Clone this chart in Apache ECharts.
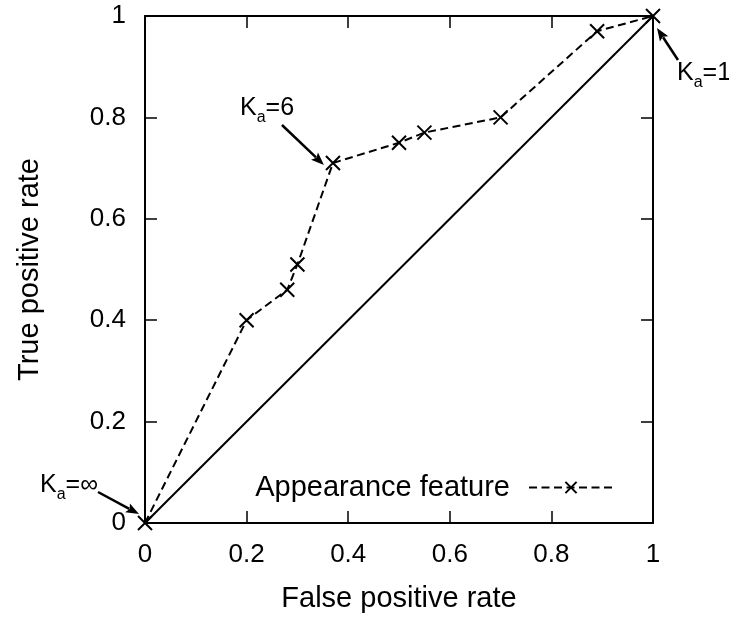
<!DOCTYPE html>
<html><head><meta charset="utf-8">
<script src="https://cdn.jsdelivr.net/npm/echarts@6/dist/echarts.min.js"></script>
<style>html,body{margin:0;padding:0;background:#fff}#c{width:729px;height:619px}</style>
</head><body><div id="c"></div>
<script>
// Data
const fpr = [0, 0.2, 0.28, 0.3, 0.37, 0.5, 0.55, 0.7, 0.89, 1];
const tpr = [0, 0.4, 0.46, 0.51, 0.71, 0.75, 0.77, 0.8, 0.97, 1];
const diagX = [0, 1];
const diagY = [0, 1];
const tickLabels = [0, 0.2, 0.4, 0.6, 0.8, 1];
const seriesName = 'Appearance feature';
const xTitle = 'False positive rate';
const yTitle = 'True positive rate';
// annotations: label pieces and the data point they point to
const annLabels = [['K', 'a', '=\u221E'], ['K', 'a', '=6'], ['K', 'a', '=1']];
const annTargets = [[0, 0], [0.37, 0.71], [1, 1]];

const FONT = '"Liberation Sans", Arial, Helvetica, sans-serif';
const chart = echarts.init(document.getElementById('c'));
const crossPath = 'path://M0,0L10,10M10,0L0,10';

function axisCommon(pos, show) {
  return {
    type: 'value', min: 0, max: 1, interval: 0.2, position: pos,
    axisLine: { show: true, onZero: false, lineStyle: { color: '#000', width: 2 } },
    axisTick: { show: true, inside: true, length: 12, lineStyle: { color: '#000', width: 1.5 } },
    axisLabel: { show: show, color: '#000', fontSize: 26, fontFamily: FONT, margin: 19,
      formatter: v => tickLabels.indexOf(v) >= 0 ? String(v) : '' },
    splitLine: { show: false }
  };
}

const xb = axisCommon('bottom', true);
xb.name = xTitle; xb.nameLocation = 'middle'; xb.nameGap = 61;
xb.nameTextStyle = { fontSize: 29, fontFamily: FONT, color: '#000' };
const yl = axisCommon('left', true);
yl.name = yTitle; yl.nameLocation = 'middle'; yl.nameGap = 101; yl.nameRotate = 90;
yl.nameTextStyle = { fontSize: 29, fontFamily: FONT, color: '#000' };
const xt = axisCommon('top', false);
const yr = axisCommon('right', false);

chart.setOption({
  animation: false,
  grid: { left: 145, right: 76, top: 16, bottom: 96, containLabel: false },
  xAxis: [xb, xt],
  yAxis: [yl, yr],
  legend: {
    data: [seriesName], right: 110, top: 468, align: 'right',
    itemWidth: 84, itemHeight: 14,
    textStyle: { fontSize: 29, fontFamily: FONT, color: '#000', padding: [0, 14, 0, 0] }
  },
  series: [
    {
      type: 'line', silent: true, data: diagX.map((x, i) => [x, diagY[i]]),
      symbol: 'none', lineStyle: { color: '#000', width: 2, type: 'solid' }, z: 2
    },
    {
      name: seriesName, type: 'line', data: fpr.map((x, i) => [x, tpr[i]]),
      symbol: crossPath, symbolSize: 14, showAllSymbol: true, clip: false,
      itemStyle: { color: 'transparent', borderColor: '#000', borderWidth: 2 },
      lineStyle: { color: '#000', width: 2, type: [8, 4.5] }, z: 3
    }
  ]
});

// Annotations (arrows + labels), positioned relative to their target points
const offsets = [
  { start: [-47, -31], end: [-6, -9], text: [-105, -50] },
  { start: [-51, -38], end: [-9, 2], text: [-93, -67] },
  { start: [25, 44], end: [4, 12], text: [24, 45] }
];
const graphics = [];
annTargets.forEach((t, i) => {
  const p = chart.convertToPixel({ gridIndex: 0 }, t);
  const o = offsets[i];
  const sx = p[0] + o.start[0], sy = p[1] + o.start[1];
  const ex = p[0] + o.end[0], ey = p[1] + o.end[1];
  const ang = Math.atan2(ey - sy, ex - sx);
  const hl = 13, hw = 5;
  const bx = ex - hl * Math.cos(ang), by = ey - hl * Math.sin(ang);
  graphics.push({
    type: 'line', shape: { x1: sx, y1: sy, x2: bx + 2 * Math.cos(ang), y2: by + 2 * Math.sin(ang) },
    style: { stroke: '#000', lineWidth: 2.5 }, z: 10
  });
  graphics.push({
    type: 'polygon',
    shape: { points: [[ex, ey],
      [bx - hw * Math.sin(ang), by + hw * Math.cos(ang)],
      [bx + 2.5 * Math.cos(ang), by + 2.5 * Math.sin(ang)],
      [bx + hw * Math.sin(ang), by - hw * Math.cos(ang)]] },
    style: { fill: '#000' }, z: 10
  });
  const L = annLabels[i];
  graphics.push({
    type: 'text', x: p[0] + o.text[0], y: p[1] + o.text[1], z: 10,
    style: {
      text: '{k|' + L[0] + '}{s|' + L[1] + '}{k|' + L[2] + '}',
      rich: {
        k: { fontSize: 25, fontFamily: FONT, fill: '#000', lineHeight: 30, verticalAlign: 'top' },
        s: { fontSize: 16, fontFamily: FONT, fill: '#000', lineHeight: 16, verticalAlign: 'bottom' }
      },
      lineHeight: 36, verticalAlign: 'top'
    }
  });
});
chart.setOption({ graphic: graphics });
</script>
</body></html>
